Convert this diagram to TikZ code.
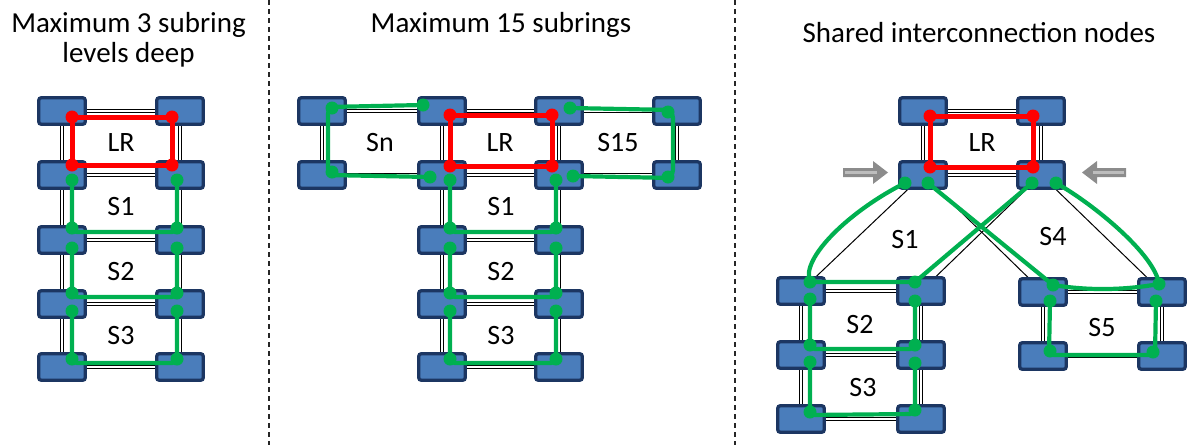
\documentclass[tikz,border=0pt]{standalone}
\usepackage{fontspec}
\setmainfont{Carlito}
\pgfdeclarelayer{bg}
\pgfsetlayers{bg,main}
\definecolor{boxfill}{HTML}{4A7DBB}
\definecolor{boxline}{HTML}{1C3662}
\definecolor{rred}{HTML}{FF0000}
\definecolor{rgreen}{HTML}{00B050}
\definecolor{agray}{HTML}{8C8C8C}
\definecolor{alight}{HTML}{BDBDBD}
\tikzset{
  box/.style={draw=boxline, fill=boxfill, line width=3.3pt, minimum width=46.5pt, minimum height=26.5pt, inner sep=0pt, rounded corners=2.5pt},
  dbl/.style={draw=black, double=white, double distance=2.4pt, line width=0.75pt},
  thinline/.style={draw=black, line width=1pt},
  redring/.style={draw=rred, line width=5pt, line join=round},
  greenring/.style={draw=rgreen, line width=4.2pt, line join=round, line cap=round},
  ugreen/.style={greenring, rounded corners=5pt},
  lbl/.style={font=\fontsize{28}{30}\selectfont, inner sep=0pt},
  ttl/.style={font=\fontsize{29}{31}\selectfont, inner sep=0pt, anchor=base},
  sepline/.style={draw=black!85, line width=1.1pt, dash pattern=on 5pt off 4pt},
  grayarrow/.style={fill=agray, draw=none},
  arrowstripe/.style={draw=alight, line width=2.5pt}
}
\begin{document}
\begin{tikzpicture}[x=1pt, y=-1pt]
\useasboundingbox (0,0) rectangle (1187,445);

% separators
\coordinate (s1t) at (269,0); \coordinate (s1b) at (269,445);
\coordinate (s2t) at (735,0); \coordinate (s2b) at (735,445);
\draw[sepline] (s1t) -- (s1b);
\draw[sepline] (s2t) -- (s2b);

% titles
\node[ttl] (t1a) at (128.5,32) {Maximum 3 subring};
\node[ttl] (t1b) at (128.5,62) {levels deep};
\node[ttl] (t2) at (501,32) {Maximum 15 subrings};
\node[ttl] (t3) at (979,42) {Shared interconnection nodes};

% ---------- boxes ----------
\foreach \n/\x/\y in {a11/62/111,a12/180/111,a21/62/175,a22/180/175,a31/62/240,a32/180/240,a41/62/304,a42/180/304,a51/62/367,a52/180/367}
  \node[box] (\n) at (\x,\y) {};
\foreach \n/\x/\y in {b11/322/111,b12/442/111,b13/559/111,b14/677/111,b21/322/175,b22/442/175,b23/559/175,b24/677/175,b32/442/240,b33/559/240,b42/442/304,b43/559/304,b52/442/367,b53/559/367}
  \node[box] (\n) at (\x,\y) {};
\foreach \n/\x/\y in {c11/923/111,c12/1041/111,c21/923/175,c22/1041/175,d11/801/291,d12/921/291,d21/801/355,d22/921/355,d31/801/419,d32/921/419,e11/1043/292,e12/1162/292,e21/1043/356,e22/1162/356}
  \node[box] (\n) at (\x,\y) {};

% ---------- black links (background) ----------
\begin{pgfonlayer}{bg}
  \draw[dbl] (a11.center) -- (a51.center);
  \draw[dbl] (a12.center) -- (a52.center);
  \foreach \r in {1,...,5} \draw[dbl] (a\r1.center) -- (a\r2.center);
  \draw[dbl] (b11.center) -- (b14.center);
  \draw[dbl] (b21.center) -- (b24.center);
  \draw[dbl] (b11.center) -- (b21.center);
  \draw[dbl] (b14.center) -- (b24.center);
  \draw[dbl] (b12.center) -- (b52.center);
  \draw[dbl] (b13.center) -- (b53.center);
  \foreach \r in {3,4,5} \draw[dbl] (b\r2.center) -- (b\r3.center);
  \draw[dbl] (c11.center) -- (c12.center) -- (c22.center) -- (c21.center) -- cycle;
  \draw[dbl] (d11.center) -- (d31.center);
  \draw[dbl] (d12.center) -- (d32.center);
  \foreach \r in {1,2,3} \draw[dbl] (d\r1.center) -- (d\r2.center);
  \draw[dbl] (e11.center) -- (e12.center) -- (e22.center) -- (e21.center) -- cycle;
  \draw[thinline] (c21.center) -- (d11.center);
  \draw[thinline] (c22.center) -- (d12.center);
  \draw[thinline] (c21.center) -- (e11.center);
  \draw[thinline] (c22.center) -- (e12.center);
\end{pgfonlayer}

% ---------- red rings ----------
\draw[redring] (72,117) rectangle (172,165);
\draw[redring] (450,115) rectangle (552,166);
\draw[redring] (930,116) rectangle (1033,167);
\foreach \x/\y in {72/117,172/117,72/165,172/165,450/115,552/115,450/166,552/166,930/116,1033/116,930/167,1033/167}
  \fill[rred] (\x,\y) circle[radius=6.5pt];

% ---------- green rings ----------
% panel 1 and 2 ladders
\foreach \dx/\l/\r in {0/72/177, 380/450/556}{
  \draw[ugreen] (\l,180) -- (\l,232) -- (\r,232) -- (\r,180);
  \draw[ugreen] (\l,248) -- (\l,297) -- (\r,297) -- (\r,248);
  \draw[ugreen] (\l,311) -- (\l,363) -- (\r,363) -- (\r,311);
  \foreach \y in {180,228,248,293,311,359}{
    \fill[rgreen] (\l,\y) circle[radius=6.5pt];
    \fill[rgreen] (\r,\y) circle[radius=6.5pt];
  }
}
% Sn and S15
\draw[greenring, rounded corners=7pt] (423,105) -- (328,107) -- (328,175) -- (430,177);
\draw[greenring, rounded corners=8pt] (570,108) -- (673,110) -- (673,178) -- (573,176);
\foreach \x/\y in {423/105,332/108,332/172,430/177,570/108,668/112,668/177,573/176}
  \fill[rgreen] (\x,\y) circle[radius=6.5pt];
% panel 3
\draw[greenring] (905,183) .. controls (851,210) and (800,258) .. (810,282) -- (915,282) -- (1032,183);
\draw[greenring] (928,183) -- (1053,285) .. controls (1090,291) and (1125,290) .. (1159,284) .. controls (1155,255) and (1095,205) .. (1056,183);
\draw[ugreen] (810,299) -- (810,349) -- (915,349) -- (915,301);
\draw[ugreen] (810,362) -- (810,415) -- (915,414) -- (915,363);
\draw[ugreen] (1050,301) -- (1049,355) -- (1155,355) -- (1156,301);
\foreach \x/\y in {905/183,810/282,915/282,1032/183,928/183,1053/285,1159/284,1056/183,810/299,915/301,810/345,915/345,810/362,915/363,810/412,915/410,1050/301,1156/301,1050/351,1153/352}
  \fill[rgreen] (\x,\y) circle[radius=6.5pt];

% gray arrows
\fill[grayarrow] (843,168) -- (873,168) -- (873,161) -- (888,172.5) -- (873,184) -- (873,177) -- (843,177) -- cycle;
\draw[arrowstripe] (845,172.5) -- (877,172.5);
\fill[grayarrow] (1126,168) -- (1097,168) -- (1097,161) -- (1082,172.5) -- (1097,184) -- (1097,177) -- (1126,177) -- cycle;
\draw[arrowstripe] (1124,172.5) -- (1093,172.5);

% labels
\node[lbl] (l1lr) at (121,143) {LR};
\node[lbl] (l1s1) at (121,207) {S1};
\node[lbl] (l1s2) at (121,272) {S2};
\node[lbl] (l1s3) at (121,336) {S3};
\node[lbl] (l2sn) at (380,143) {Sn};
\node[lbl] (l2lr) at (500,143) {LR};
\node[lbl] (l2s15) at (618,143) {S15};
\node[lbl] (l2s1) at (501,207) {S1};
\node[lbl] (l2s2) at (501,272) {S2};
\node[lbl] (l2s3) at (501,336) {S3};
\node[lbl] (l3lr) at (982,143) {LR};
\node[lbl] (l3s1) at (905,240) {S1};
\node[lbl] (l3s4) at (1053,237) {S4};
\node[lbl] (l3s2) at (860,325) {S2};
\node[lbl] (l3s3) at (863,388) {S3};
\node[lbl] (l3s5) at (1102,328) {S5};
\end{tikzpicture}
\end{document}
